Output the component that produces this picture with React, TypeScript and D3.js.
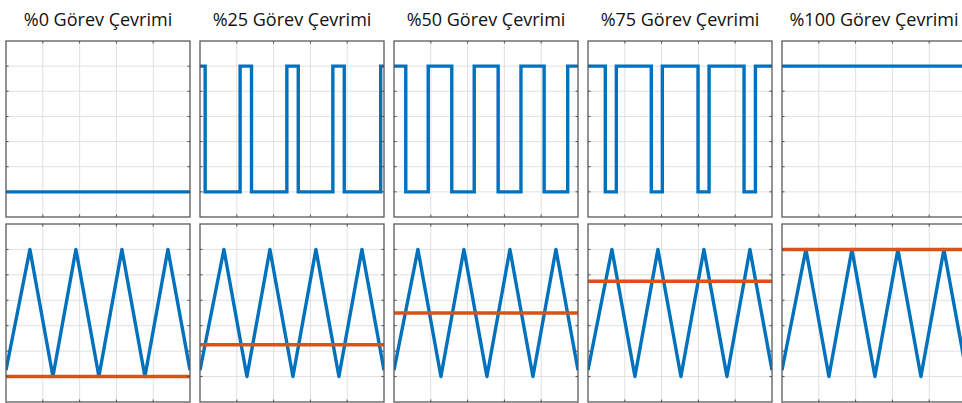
import React, { useEffect, useRef } from 'react';
import * as d3 from 'd3';

// duty cycle panels (titles + compare level)
const titles = [
  '%0 Görev Çevrimi',
  '%25 Görev Çevrimi',
  '%50 Görev Çevrimi',
  '%75 Görev Çevrimi',
  '%100 Görev Çevrimi',
];
const dutyLevels = [0, 0.25, 0.5, 0.75, 1.0];

// square wave: starting level and switching times
const squareStart = [0, 1, 1, 1, 1];
const squareEdges = [
  [],
  [0.14, 1.09, 1.4, 2.36, 2.67, 3.61, 3.92, 4.91],
  [0.32, 0.93, 1.57, 2.18, 2.83, 3.45, 4.08, 4.72],
  [0.47, 0.77, 1.72, 2.02, 2.99, 3.29, 4.24, 4.55],
  [],
];

// carrier (triangle) vertices, same in every bottom panel
const triangleX = [0, 0.65, 1.275, 1.9, 2.525, 3.15, 3.775, 4.4, 5];
const triangleY = [0.05, 1, 0, 1, 0, 1, 0, 1, 0.05];

const xTicks = [0, 1, 2, 3, 4, 5];
const yTicks = [-0.2, 0, 0.2, 0.4, 0.6, 0.8, 1.0, 1.2];

const width = 962;
const height = 403;
const panelLeft = 6;
const panelStep = 194;
const panelW = 184;
const rows = [
  { top: 41, h: 176 },
  { top: 224, h: 178 },
];

const BLUE = '#0072BD';
const ORANGE = '#D95319';

function squarePoints(i: number): [number, number][] {
  let cur = squareStart[i];
  const pts: [number, number][] = [[0, cur]];
  squareEdges[i].forEach((e) => {
    pts.push([e, cur]);
    cur = cur ? 0 : 1;
    pts.push([e, cur]);
  });
  pts.push([5, cur]);
  return pts;
}

export default function App() {
  const ref = useRef<SVGSVGElement>(null);

  useEffect(() => {
    drawChart();
  }, []);

  function drawChart() {
    const svg = d3.select(ref.current);
    svg.selectAll('*').remove();

    const x = d3.scaleLinear().domain([0, 5]).range([0, panelW]);

    titles.forEach((title, i) => {
      const left = panelLeft + i * panelStep;

      svg
        .append('text')
        .attr('x', left + panelW / 2)
        .attr('y', 26)
        .attr('text-anchor', 'middle')
        .style('font-family', '"Open Sans", sans-serif')
        .style('font-size', '18px')
        .style('fill', '#111')
        .text(title);

      rows.forEach((row, r) => {
        const y = d3.scaleLinear().domain([-0.2, 1.2]).range([row.h, 0]);
        const g = svg.append('g').attr('transform', `translate(${left}, ${row.top})`);
        const clipId = `clip-${i}-${r}`;
        g.append('clipPath')
          .attr('id', clipId)
          .append('rect')
          .attr('width', panelW)
          .attr('height', row.h);

        g.append('rect')
          .attr('width', panelW)
          .attr('height', row.h)
          .style('fill', '#fff');

        // grid
        g.selectAll('.vgrid')
          .data(xTicks.slice(1, -1))
          .enter()
          .append('line')
          .attr('x1', (d) => x(d))
          .attr('x2', (d) => x(d))
          .attr('y1', 0)
          .attr('y2', row.h)
          .style('stroke', '#e0e0e0')
          .style('stroke-width', 1);
        g.selectAll('.hgrid')
          .data(yTicks.slice(1, -1))
          .enter()
          .append('line')
          .attr('x1', 0)
          .attr('x2', panelW)
          .attr('y1', (d) => y(d))
          .attr('y2', (d) => y(d))
          .style('stroke', '#e0e0e0')
          .style('stroke-width', 1);

        const plot = g.append('g').attr('clip-path', `url(#${clipId})`);
        const line = d3
          .line<[number, number]>()
          .x((d) => x(d[0]))
          .y((d) => y(d[1]));

        if (r === 0) {
          plot
            .append('path')
            .attr('d', line(squarePoints(i)))
            .style('fill', 'none')
            .style('stroke', BLUE)
            .style('stroke-width', 3.4);
        } else {
          const tri = triangleX.map((v, k) => [v, triangleY[k]] as [number, number]);
          plot
            .append('path')
            .attr('d', line(tri))
            .style('fill', 'none')
            .style('stroke', BLUE)
            .style('stroke-width', 3.4)
            .style('stroke-linejoin', 'round');
          plot
            .append('path')
            .attr('d', line([[0, dutyLevels[i]], [5, dutyLevels[i]]]))
            .style('fill', 'none')
            .style('stroke', ORANGE)
            .style('stroke-width', 3.4);
        }

        // ticks (inward, all sides)
        const tk = 2.5;
        xTicks.slice(1, -1).forEach((t) => {
          g.append('line').attr('x1', x(t)).attr('x2', x(t)).attr('y1', 0).attr('y2', tk)
            .style('stroke', '#4d4d4d');
          g.append('line').attr('x1', x(t)).attr('x2', x(t)).attr('y1', row.h).attr('y2', row.h - tk)
            .style('stroke', '#4d4d4d');
        });
        yTicks.slice(1, -1).forEach((t) => {
          g.append('line').attr('x1', 0).attr('x2', tk).attr('y1', y(t)).attr('y2', y(t))
            .style('stroke', '#4d4d4d');
          g.append('line').attr('x1', panelW).attr('x2', panelW - tk).attr('y1', y(t)).attr('y2', y(t))
            .style('stroke', '#4d4d4d');
        });

        g.append('rect')
          .attr('width', panelW)
          .attr('height', row.h)
          .style('fill', 'none')
          .style('stroke', '#5a5a5a')
          .style('stroke-width', 1.3);
      });
    });
  }

  return (
    <svg
      ref={ref}
      width={width}
      height={height}
      style={{ position: 'absolute', left: 0, top: 0, background: '#fff' }}
    />
  );
}
